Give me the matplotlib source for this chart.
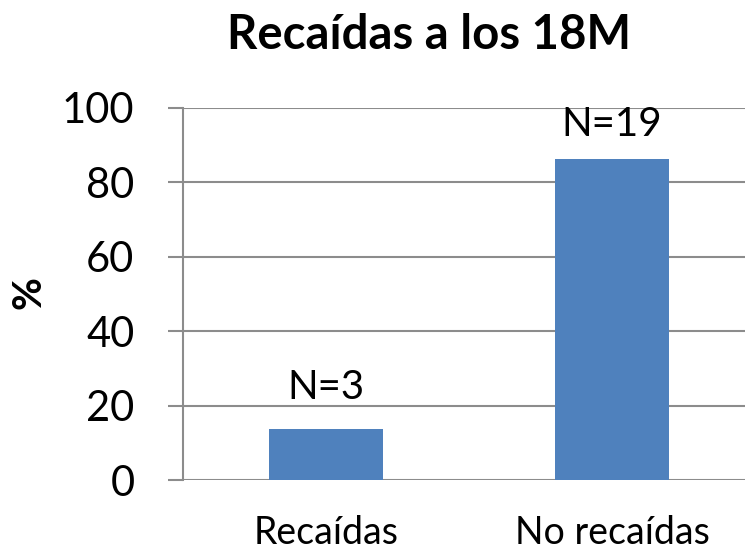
import matplotlib.pyplot as plt

# data
categories = ['Recaídas', 'No recaídas']
percent = [13.6, 86.4]
labels = ['N=3', 'N=19']
yticks = [0, 20, 40, 60, 80, 100]

plt.rcParams['font.family'] = ['Lato', 'DejaVu Sans']

fig = plt.figure(figsize=(7.45, 5.5), dpi=100)
ax = fig.add_axes([183 / 745, 70 / 550, 572 / 745, 372 / 550])

x = list(range(len(categories)))
bars = ax.bar(x, percent, width=0.4, color='#4F81BD', zorder=3)

# labels above bars (offsets in points, placed by hand in the original)
offsets = [17, 11]
for b, lab, off in zip(bars, labels, offsets):
    ax.annotate(lab, (b.get_x() + b.get_width() / 2, b.get_height()),
                xytext=(0, off), textcoords='offset points',
                ha='center', va='bottom', fontsize=29)

ax.set_xlim(-0.5, 1.5)
ax.set_ylim(0, 100)
ax.set_yticks(yticks)
ax.set_xticks(x)
ax.set_xticklabels(categories, fontsize=27)
ax.tick_params(axis='x', length=0, pad=25)
ax.tick_params(axis='y', labelsize=30, length=11, width=1.5, color='#8c8c8c', pad=24)
ax.yaxis.grid(True, color='#8c8c8c', linewidth=1.5, zorder=0)

for s in ['top', 'right', 'bottom']:
    ax.spines[s].set_visible(False)
ax.spines['left'].set_color('#8c8c8c')
ax.spines['left'].set_linewidth(1.5)

fig.text(29 / 745, 1 - 293 / 550, '%', rotation=90, fontsize=29,
         fontweight='bold', ha='center', va='center')
fig.text(429 / 745, 1 - 49 / 550, 'Recaídas a los 18M', fontsize=34,
         fontweight='bold', ha='center', va='baseline')

fig.savefig('out.png', dpi=100)
